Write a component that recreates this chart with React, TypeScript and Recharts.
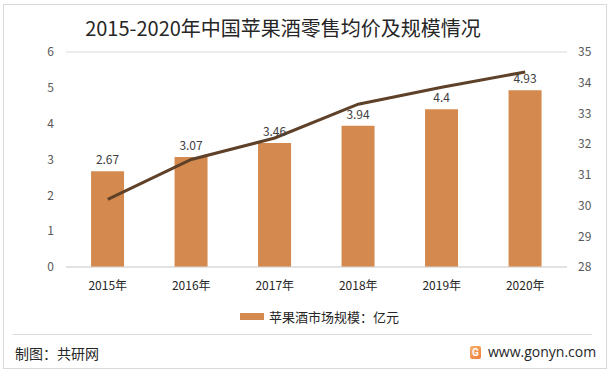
import React from 'react';
import { ComposedChart, Bar, Line, XAxis, YAxis, CartesianGrid, LabelList, Legend } from 'recharts';

const years = ['2015年', '2016年', '2017年', '2018年', '2019年', '2020年'];
const marketSize = [2.67, 3.07, 3.46, 3.94, 4.4, 4.93];
const avgPrice = [30.2, 31.5, 32.2, 33.3, 33.85, 34.35];
const leftTicks = [0, 1, 2, 3, 4, 5, 6];
const rightTicks = [28, 29, 30, 31, 32, 33, 34, 35];

const data = years.map((y, i) => ({ year: y, size: marketSize[i], price: avgPrice[i] }));

const FONT = '"Noto Sans CJK SC", "Noto Sans", sans-serif';

const LegendContent = () => (
  <div style={{ display: 'flex', alignItems: 'center', justifyContent: 'flex-start', paddingLeft: 240, fontFamily: FONT, fontSize: 13, color: '#262626', height: 20 }}>
    <span style={{ display: 'inline-block', width: 24, height: 7, background: '#D48A4E', marginRight: 5 }} />
    <span>苹果酒市场规模：亿元</span>
  </div>
);

export default function App() {
  return (
    <div style={{ position: 'absolute', left: 0, top: 0, width: 616, height: 376, background: '#fff', overflow: 'hidden' }}>
      <div style={{ position: 'absolute', left: 3, top: 4, width: 602, height: 363, border: '1px solid #d9d9d9' }} />
      <div style={{ position: 'absolute', left: 0, top: 14, width: 566, textAlign: 'center', fontFamily: FONT, fontSize: 20, color: '#262626', lineHeight: '28px' }}>
        2015-2020年中国苹果酒零售均价及规模情况
      </div>
      <div style={{ position: 'absolute', left: 0, top: 0 }}>
        <ComposedChart width={616} height={376} data={data} margin={{ top: 52, right: 0, bottom: 59, left: 0 }} barCategoryGap="30%">
          <CartesianGrid vertical={false} stroke="#d9d9d9" />
          <XAxis dataKey="year" stroke="#d9d9d9" tickLine={false} tickSize={0} tickMargin={14} height={30}
            tick={{ fill: '#262626', fontSize: 12, fontFamily: FONT }} />
          <YAxis yAxisId="left" domain={[0, 6]} ticks={leftTicks} width={66} axisLine={false} tickLine={false} tickSize={0} tickMargin={12}
            tick={{ fill: '#595959', fontSize: 12, fontFamily: FONT }} />
          <YAxis yAxisId="right" orientation="right" domain={[28, 35]} ticks={rightTicks} width={49} axisLine={false} tickLine={false} tickSize={0} tickMargin={11}
            tick={{ fill: '#595959', fontSize: 12, fontFamily: FONT }} />
          <Bar yAxisId="left" dataKey="size" fill="#D48A4E" isAnimationActive={false} legendType="rect">
            <LabelList dataKey="size" position="top" offset={7} fill="#404040" fontSize={12} fontFamily={FONT} />
          </Bar>
          <Line yAxisId="right" dataKey="price" stroke="#5E4128" strokeWidth={3} dot={false} isAnimationActive={false} legendType="none" />
          <Legend content={<LegendContent />} wrapperStyle={{ top: 306, left: 0, width: 616 }} />
        </ComposedChart>
      </div>
      <div style={{ position: 'absolute', left: 13, top: 334, width: 579, height: 1, background: '#d9d9d9' }} />
      <div style={{ position: 'absolute', left: 15, top: 343, fontFamily: FONT, fontSize: 14, color: '#262626', lineHeight: '20px' }}>
        制图：共研网
      </div>
      <div style={{ position: 'absolute', left: 470, top: 346, width: 11, height: 13, borderRadius: 2, background: 'linear-gradient(135deg, #f7b267, #f07b3f)', color: '#fff', fontSize: 10, fontFamily: 'Roboto, sans-serif', fontWeight: 700, lineHeight: '13px', textAlign: 'center' }}>G</div>
      <div style={{ position: 'absolute', left: 488, top: 342, fontFamily: '"Open Sans", "Noto Sans", sans-serif', fontSize: 14, color: '#262626', lineHeight: '20px' }}>
        www.gonyn.com
      </div>
    </div>
  );
}
